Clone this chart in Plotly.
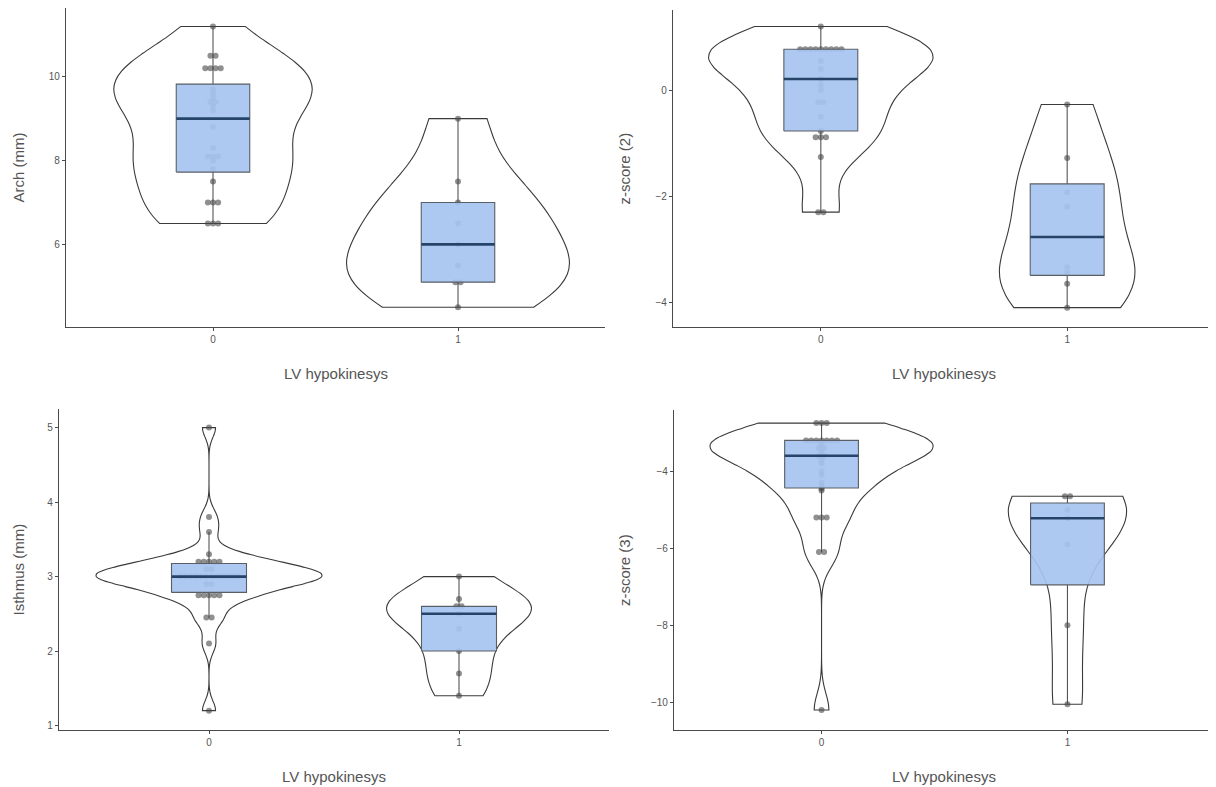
import numpy as np
import plotly.graph_objects as go

# ---------------- data ----------------
categories = [0, 1]
tick_text = ["0", "1"]

arch_0 = [6.5, 6.5, 6.5, 7.0, 7.0, 7.0, 7.5, 7.8, 8.0, 8.1, 8.1, 8.1, 8.3, 8.8,
          9.2, 9.3, 9.4, 9.4, 9.5, 9.6, 9.7, 10.2, 10.2, 10.2, 10.2, 10.5, 10.5, 11.2]
arch_1 = [4.5, 5.1, 5.1, 5.5, 6.0, 6.5, 7.0, 7.5, 9.0]

z2_0 = [-2.3, -2.3, -1.26, -0.89, -0.89, -0.89, -0.77, -0.5, -0.23, -0.23, 0.0, 0.1,
        0.21, 0.4, 0.55, 0.77, 0.77, 0.77, 0.77, 0.77, 0.77, 0.77, 0.77, 0.77, 1.2]
z2_1 = [-4.1, -3.65, -3.44, -3.34, -2.2, -1.93, -1.28, -0.27]

isth_0 = [1.2, 2.1, 2.45, 2.45, 2.75, 2.75, 2.75, 2.75, 2.75, 2.9, 2.9,
          3.0, 3.0, 3.0, 3.0, 3.0, 3.0, 3.0, 3.0, 3.0, 3.0, 3.0, 3.0,
          3.1, 3.1, 3.2, 3.2, 3.2, 3.2, 3.2, 3.3, 3.6, 3.8, 5.0]
isth_1 = [1.4, 1.7, 2.0, 2.3, 2.5, 2.6, 2.6, 2.7, 3.0]

z3_0 = [-10.2, -6.1, -6.1, -5.2, -5.2, -5.2, -4.5, -4.45, -4.4, -4.3, -4.1, -4.0,
        -3.8, -3.7, -3.6, -3.6, -3.5, -3.4, -3.4, -3.3,
        -3.2, -3.2, -3.2, -3.2, -3.2, -3.2, -3.2, -2.75, -2.75, -2.75]
z3_1 = [-10.05, -8.0, -5.9, -5.22, -5.0, -4.65, -4.65]

x_title = "LV hypokinesys"
y_titles = ["Arch (mm)", "z-score (2)", "Isthmus (mm)", "z-score (3)"]

# ---------------- styling / layout ----------------
# The page body has an 8px margin, so the figure is drawn 8px smaller and
# all reference pixel positions are shifted by OFF.
OFF = 8
W, H = 1216 - OFF, 787 - OFF
VIOLIN_LINE = "#3a3a3a"
BOX_FILL = "rgba(166,196,240,0.92)"
BOX_LINE = "#5a5f66"
WHISKER = "#555555"
MEDIAN_COLOR = "#264468"
DOT_COLOR = "rgba(70,70,70,0.6)"
AXIS_COLOR = "#4a4a4a"
TEXT_COLOR = "#555555"
FONT = "Liberation Sans, Arial, sans-serif"
BOX_W = 0.30
DOT_STEP = 0.021

panels = [
    dict(d0=arch_0, d1=arch_1, vw=(0.81, 0.91), yr=(4.03, 11.64), tv=[6, 8, 10],
         xdom=(66, 605), ydom=(8, 327)),
    dict(d0=z2_0, d1=z2_1, vw=(0.91, 0.55), yr=(-4.465, 1.51), tv=[-4, -2, 0],
         xdom=(673, 1215), ydom=(10, 327)),
    dict(d0=isth_0, d1=isth_1, vw=(0.90, 0.58), yr=(0.94, 5.25), tv=[1, 2, 3, 4, 5],
         xdom=(59, 609), ydom=(409, 730)),
    dict(d0=z3_0, d1=z3_1, vw=(0.905, 0.48), yr=(-10.72, -2.41), tv=[-10, -8, -6, -4],
         xdom=(674, 1215), ydom=(410, 730)),
]


def px_x(px):
    return (px - OFF) / W


def px_y(px):
    return 1 - (px - OFF) / H


def nrd0(v):
    v = np.asarray(v, float)
    sd = np.std(v, ddof=1)
    q1, q3 = np.percentile(v, [25, 75])
    lo = min(sd, (q3 - q1) / 1.34)
    if lo <= 0:
        lo = sd if sd > 0 else 1.0
    return 0.9 * lo * len(v) ** -0.2


def box_stats(v):
    v = np.asarray(v, float)
    q1, med, q3 = np.percentile(v, [25, 50, 75])
    iqr = q3 - q1
    lf = v[v >= q1 - 1.5 * iqr].min()
    uf = v[v <= q3 + 1.5 * iqr].max()
    return q1, med, q3, lf, uf


def dot_positions(v, center):
    v = np.asarray(v, float)
    xs, ys = [], []
    for u in np.unique(v):
        k = int(np.sum(v == u))
        for i in range(k):
            xs.append(center + (i - (k - 1) / 2) * DOT_STEP)
            ys.append(u)
    return xs, ys


fig = go.Figure()

for pi, p in enumerate(panels):
    sfx = "" if pi == 0 else str(pi + 1)
    xa, ya = "x" + sfx, "y" + sfx
    for gi, (cat, data) in enumerate(zip(categories, [p["d0"], p["d1"]])):
        # violin (density computed by plotly)
        fig.add_trace(go.Violin(
            x=[cat] * len(data), y=data, xaxis=xa, yaxis=ya,
            width=p["vw"][gi], scalemode="width", spanmode="hard",
            bandwidth=nrd0(data), fillcolor="white",
            line=dict(color=VIOLIN_LINE, width=1.1),
            points=False, box_visible=False, meanline_visible=False,
            showlegend=False, hoverinfo="skip", orientation="v"))
        q1, med, q3, lf, uf = box_stats(data)
        # whiskers
        fig.add_trace(go.Scatter(
            x=[cat, cat, None, cat, cat], y=[q3, uf, None, q1, lf],
            xaxis=xa, yaxis=ya, mode="lines",
            line=dict(color=WHISKER, width=1.1),
            showlegend=False, hoverinfo="skip"))
        # dots
        dx, dy = dot_positions(data, cat)
        fig.add_trace(go.Scatter(
            x=dx, y=dy, xaxis=xa, yaxis=ya, mode="markers",
            marker=dict(size=6, color=DOT_COLOR, line=dict(width=0)),
            showlegend=False, hoverinfo="skip"))
        # box (drawn above the dots, semi transparent)
        bl, br = cat - BOX_W / 2, cat + BOX_W / 2
        fig.add_trace(go.Scatter(
            x=[bl, br, br, bl, bl], y=[q1, q1, q3, q3, q1],
            xaxis=xa, yaxis=ya, mode="lines", fill="toself", fillcolor=BOX_FILL,
            line=dict(color=BOX_LINE, width=1.1),
            showlegend=False, hoverinfo="skip"))
        # median
        fig.add_trace(go.Scatter(
            x=[bl, br], y=[med, med], xaxis=xa, yaxis=ya,
            mode="lines", line=dict(color=MEDIAN_COLOR, width=2.6),
            showlegend=False, hoverinfo="skip"))

    x0, x1 = p["xdom"]
    yt, yb = p["ydom"]
    common = dict(showline=True, linecolor=AXIS_COLOR, linewidth=1.2,
                  ticks="outside", ticklen=3, tickcolor=AXIS_COLOR, tickwidth=1,
                  showgrid=False, zeroline=False,
                  tickfont=dict(family=FONT, size=10, color=TEXT_COLOR))
    fig.layout["xaxis" + sfx] = dict(
        domain=[px_x(x0), min(px_x(x1), 1.0)], anchor=ya, range=[-0.6, 1.6],
        tickvals=categories, ticktext=tick_text, **common)
    fig.layout["yaxis" + sfx] = dict(
        domain=[px_y(yb), px_y(yt)], anchor=xa, range=list(p["yr"]),
        tickvals=p["tv"], **common)

    fig.add_annotation(text=x_title, xref="paper", yref="paper",
                       x=px_x((x0 + x1) / 2), y=px_y(yb + 46),
                       showarrow=False, xanchor="center", yanchor="middle",
                       font=dict(family=FONT, size=15, color=TEXT_COLOR))
    fig.add_annotation(text=y_titles[pi], xref="paper", yref="paper",
                       x=px_x(18 if x0 < 300 else 624), y=px_y((yt + yb) / 2),
                       textangle=-90, showarrow=False, xanchor="center", yanchor="middle",
                       font=dict(family=FONT, size=15, color=TEXT_COLOR))

fig.update_layout(width=W, height=H, margin=dict(l=0, r=0, t=0, b=0),
                  paper_bgcolor="white", plot_bgcolor="white", showlegend=False)

fig.write_html("out.html")
